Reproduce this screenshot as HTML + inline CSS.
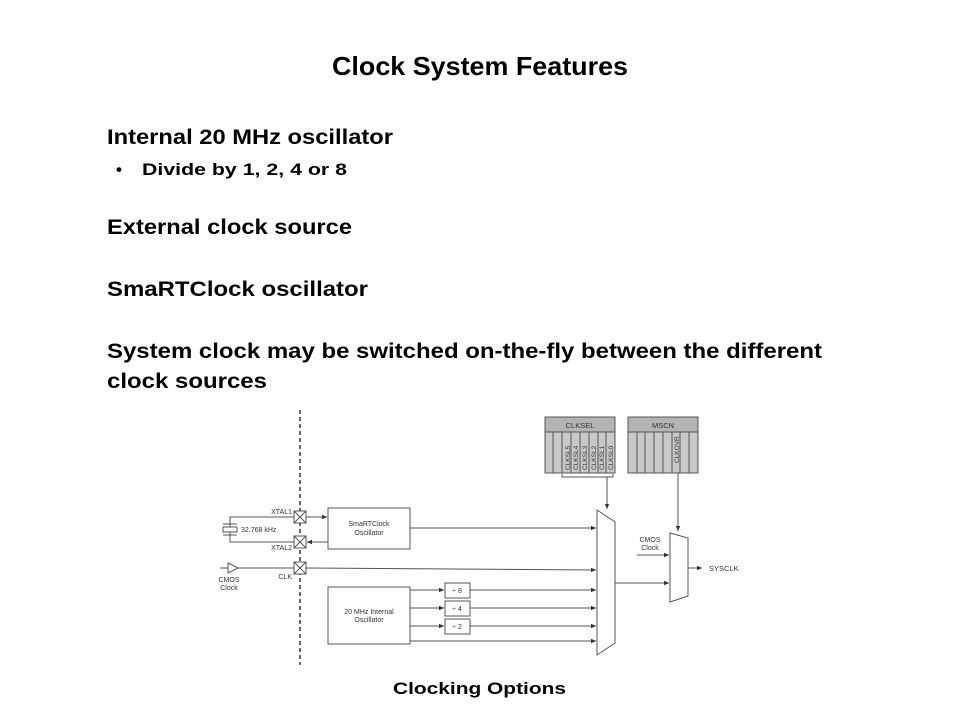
<!DOCTYPE html>
<html><head><meta charset="utf-8"><style>
html,body{margin:0;padding:0;background:#fff}
svg{display:block}
</style></head><body>
<svg width="960" height="720" viewBox="0 0 960 720" xmlns="http://www.w3.org/2000/svg" font-family="Liberation Sans, Arial, sans-serif">
<defs><marker id="a" markerWidth="6" markerHeight="6" refX="5" refY="3" orient="auto"><path d="M0,0.8 L5,3 L0,5.2z" fill="#333"/></marker></defs>
<g font-weight="bold" fill="#000" lengthAdjust="spacingAndGlyphs">
<text x="332" y="75" font-size="26" textLength="296" lengthAdjust="spacingAndGlyphs">Clock System Features</text>
<text x="107" y="144" font-size="21" textLength="286" lengthAdjust="spacingAndGlyphs">Internal 20 MHz oscillator</text>
<text x="116" y="175" font-size="17">•</text>
<text x="142" y="175" font-size="17" textLength="205" lengthAdjust="spacingAndGlyphs">Divide by 1, 2, 4 or 8</text>
<text x="107" y="234" font-size="21" textLength="245" lengthAdjust="spacingAndGlyphs">External clock source</text>
<text x="107" y="296" font-size="21" textLength="261" lengthAdjust="spacingAndGlyphs">SmaRTClock oscillator</text>
<text x="107" y="358" font-size="21" textLength="715" lengthAdjust="spacingAndGlyphs">System clock may be switched on-the-fly between the different</text>
<text x="107" y="388" font-size="21" textLength="160" lengthAdjust="spacingAndGlyphs">clock sources</text>
<text x="393" y="694" font-size="17" textLength="173" lengthAdjust="spacingAndGlyphs">Clocking Options</text>
</g>
<g stroke="#555" stroke-width="1" fill="none">
<line x1="300" y1="410" x2="300" y2="665" stroke-dasharray="4,3" stroke="#333" stroke-width="1.5"/>
<rect x="294" y="511" width="12" height="12" fill="#fff"/><path d="M294,511 L306,523 M306,511 L294,523"/>
<rect x="294" y="536" width="12" height="12" fill="#fff"/><path d="M294,536 L306,548 M306,536 L294,548"/>
<rect x="294" y="562" width="12" height="12" fill="#fff"/><path d="M294,562 L306,574 M306,562 L294,574"/>
<path d="M294,517 H230 V542 H294"/>
<rect x="223" y="527" width="14" height="5" fill="#fff"/>
<path d="M223,524 H237 M223,535 H237"/>
<line x1="306" y1="517" x2="327" y2="517" marker-end="url(#a)"/>
<line x1="328" y1="542" x2="307" y2="542" marker-end="url(#a)"/>
<rect x="328" y="508" width="82" height="41"/>
<line x1="410" y1="528" x2="596" y2="528" marker-end="url(#a)"/>
<path d="M220,568 H228 M228,563 L238,568 L228,573 Z M238,568 H294"/>
<line x1="306" y1="568" x2="596" y2="570" marker-end="url(#a)"/>
<rect x="328" y="587" width="82" height="57"/>
<line x1="410" y1="590" x2="444" y2="590" marker-end="url(#a)"/>
<line x1="410" y1="608" x2="444" y2="608" marker-end="url(#a)"/>
<line x1="410" y1="626" x2="444" y2="626" marker-end="url(#a)"/>
<rect x="445" y="583" width="25" height="15"/>
<rect x="445" y="601" width="25" height="15"/>
<rect x="445" y="619" width="25" height="15"/>
<line x1="470" y1="590" x2="596" y2="590" marker-end="url(#a)"/>
<line x1="470" y1="608" x2="596" y2="608" marker-end="url(#a)"/>
<line x1="470" y1="626" x2="596" y2="626" marker-end="url(#a)"/>
<line x1="410" y1="641" x2="596" y2="641" marker-end="url(#a)"/>
<path d="M597,510 L615,522 L615,643 L597,655 Z" fill="#fff"/>
<line x1="615" y1="583" x2="669" y2="583" marker-end="url(#a)"/>
<path d="M670,533 L688,538 L688,596 L670,602 Z" fill="#fff"/>
<line x1="637" y1="555" x2="669" y2="555" marker-end="url(#a)"/>
<line x1="688" y1="568" x2="702" y2="568" marker-end="url(#a)"/>
<rect x="545" y="417" width="70" height="56" fill="#c8c8c8"/>
<rect x="545" y="417" width="70" height="15" fill="#b4b4b4"/>
<path d="M553,432V473 M562,432V473 M571,432V473 M580,432V473 M589,432V473 M598,432V473 M606,432V473"/>
<path d="M562,474 V477 H613 V474"/>
<line x1="607" y1="477" x2="607" y2="509" marker-end="url(#a)"/>
<rect x="628" y="417" width="70" height="56" fill="#c8c8c8"/>
<rect x="628" y="417" width="70" height="15" fill="#b4b4b4"/>
<path d="M637,432V473 M645,432V473 M654,432V473 M663,432V473 M672,432V473 M680,432V473 M689,432V473"/>
<line x1="678" y1="473" x2="678" y2="531" marker-end="url(#a)"/>
</g>
<g font-size="7" fill="#333">
<text x="580" y="428" text-anchor="middle" font-size="7.5">CLKSEL</text>
<text x="663" y="428" text-anchor="middle" font-size="7.5">MSCN</text>
<g font-size="6.5">
<text transform="translate(570,470) rotate(-90)">CLKSL5</text>
<text transform="translate(578,470) rotate(-90)">CLKSL4</text>
<text transform="translate(587,470) rotate(-90)">CLKSL3</text>
<text transform="translate(596,470) rotate(-90)">CLKSL2</text>
<text transform="translate(604,470) rotate(-90)">CLKSL1</text>
<text transform="translate(613,470) rotate(-90)">CLKSL0</text>
<text transform="translate(679,463) rotate(-90)">CLKOVR</text>
</g>
<text x="292" y="514" text-anchor="end">XTAL1</text>
<text x="292" y="550" text-anchor="end">XTAL2</text>
<text x="292" y="579" text-anchor="end">CLK</text>
<text x="241" y="532">32.768 kHz</text>
<text x="229" y="582" text-anchor="middle">CMOS</text>
<text x="229" y="590" text-anchor="middle">Clock</text>
<text x="369" y="526" text-anchor="middle">SmaRTClock</text>
<text x="369" y="535" text-anchor="middle">Oscillator</text>
<text x="369" y="614" text-anchor="middle">20 MHz Internal</text>
<text x="369" y="622" text-anchor="middle">Oscillator</text>
<text x="457" y="593" text-anchor="middle">÷ 8</text>
<text x="457" y="611" text-anchor="middle">÷ 4</text>
<text x="457" y="629" text-anchor="middle">÷ 2</text>
<text x="650" y="542" text-anchor="middle">CMOS</text>
<text x="650" y="550" text-anchor="middle">Clock</text>
<text x="709" y="571" font-size="7.5">SYSCLK</text>
</g>
</svg>
</body></html>
